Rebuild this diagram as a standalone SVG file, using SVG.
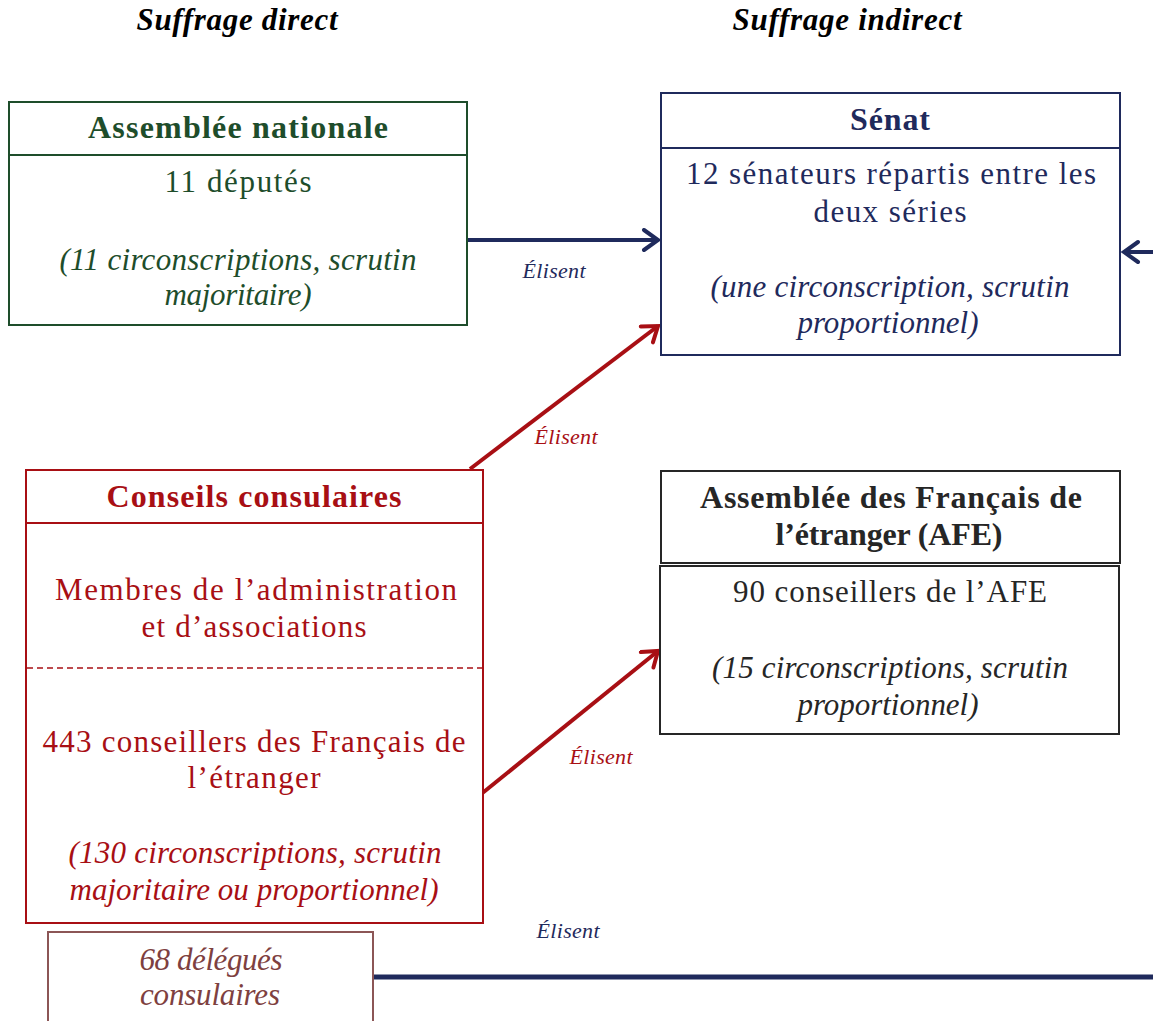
<svg xmlns="http://www.w3.org/2000/svg" width="1153" height="1021" viewBox="0 0 1153 1021">
<style>
text{font-family:"Liberation Serif","Times New Roman",serif;text-anchor:middle;}
.t{font-size:32px;font-weight:bold;}
.n{font-size:31px;}
.i{font-size:31px;font-style:italic;}
.lbl{font-size:22px;font-style:italic;}
.hdr{font-size:31px;font-weight:bold;font-style:italic;fill:#000;}
.box{fill:#fff;stroke-width:2;}
.green{fill:#1e4d2b;}
.navy{fill:#1f2a5c;}
.red{fill:#a80f14;}
.dark{fill:#262626;}
.brown{fill:#7e4040;}
</style>
<defs>
<marker id="ahN" markerUnits="userSpaceOnUse" markerWidth="24" markerHeight="26" refX="18" refY="12" orient="auto"><path d="M4,2 L18,12 L4,22" fill="none" stroke="#1f2a5c" stroke-width="4" stroke-linecap="round" stroke-linejoin="miter"/></marker>
<marker id="ahR" markerUnits="userSpaceOnUse" markerWidth="24" markerHeight="26" refX="18" refY="12" orient="auto"><path d="M4,2 L18,12 L4,22" fill="none" stroke="#a80f14" stroke-width="4" stroke-linecap="round" stroke-linejoin="miter"/></marker>
</defs>
<rect width="1153" height="1021" fill="#fff"/>
<text class="hdr" x="237" y="30" textLength="201">Suffrage direct</text>
<text class="hdr" x="847" y="30" textLength="229">Suffrage indirect</text>

<g id="connectors">
<line x1="468" y1="240" x2="658" y2="240" stroke="#1f2a5c" stroke-width="4" marker-end="url(#ahN)"/>
<text class="lbl navy" x="554" y="278" textLength="63">Élisent</text>
<line x1="470" y1="469" x2="658" y2="326" stroke="#a80f14" stroke-width="4" marker-end="url(#ahR)"/>
<text class="lbl red" x="566" y="444" textLength="63">Élisent</text>
<line x1="480" y1="795" x2="658" y2="651" stroke="#a80f14" stroke-width="4" marker-end="url(#ahR)"/>
<text class="lbl red" x="601" y="764" textLength="63">Élisent</text>
<line x1="1153" y1="252" x2="1124" y2="252" stroke="#1f2a5c" stroke-width="4" marker-end="url(#ahN)"/>
<line x1="373" y1="977" x2="1153" y2="977" stroke="#1f2a5c" stroke-width="5"/>
<text class="lbl navy" x="568" y="938" textLength="63">Élisent</text>
</g>

<g id="assemblee-nationale">
<rect class="box" x="9" y="102" width="458" height="223" stroke="#1e4d2b"/>
<line x1="9" y1="155" x2="467" y2="155" stroke="#1e4d2b" stroke-width="2"/>
<text class="t green" x="238" y="138" textLength="300">Assemblée nationale</text>
<text class="n green" x="238" y="192" textLength="147">11 députés</text>
<text class="i green" x="238" y="270" textLength="357">(11 circonscriptions, scrutin</text>
<text class="i green" x="238" y="305" textLength="147">majoritaire)</text>
</g>

<g id="senat">
<rect class="box" x="661" y="93" width="459" height="262" stroke="#1f2a5c"/>
<line x1="661" y1="148" x2="1120" y2="148" stroke="#1f2a5c" stroke-width="2"/>
<text class="t navy" x="890" y="130" textLength="80">Sénat</text>
<text class="n navy" x="891" y="184" textLength="410">12 sénateurs répartis entre les</text>
<text class="n navy" x="890" y="222" textLength="153">deux séries</text>
<text class="i navy" x="890" y="297" textLength="359">(une circonscription, scrutin</text>
<text class="i navy" x="888" y="333" textLength="181">proportionnel)</text>
</g>

<g id="conseils-consulaires">
<rect class="box" x="26" y="470" width="457" height="453" stroke="#a80f14"/>
<line x1="26" y1="523" x2="483" y2="523" stroke="#a80f14" stroke-width="2"/>
<line x1="27" y1="668" x2="482" y2="668" stroke="#a80f14" stroke-width="1.5" stroke-dasharray="6,4"/>
<text class="t red" x="254" y="507" textLength="295">Conseils consulaires</text>
<text class="n red" x="256" y="600" textLength="402">Membres de l’administration</text>
<text class="n red" x="254" y="637" textLength="225">et d’associations</text>
<text class="n red" x="254" y="752" textLength="423">443 conseillers des Français de</text>
<text class="n red" x="254" y="788" textLength="133">l’étranger</text>
<text class="i red" x="255" y="863" textLength="373">(130 circonscriptions, scrutin</text>
<text class="i red" x="254" y="900" textLength="369">majoritaire ou proportionnel)</text>
</g>

<g id="afe">
<rect class="box" x="661" y="471" width="459" height="92" stroke="#262626" stroke-width="2.5"/>
<rect class="box" x="660" y="566" width="459" height="168" stroke="#262626"/>
<text class="t dark" x="891" y="508" textLength="382">Assemblée des Français de</text>
<text class="t dark" x="889" y="545" textLength="227">l’étranger (AFE)</text>
<text class="n dark" x="890" y="602" textLength="314">90 conseillers de l’AFE</text>
<text class="i dark" x="890" y="678" textLength="356">(15 circonscriptions, scrutin</text>
<text class="i dark" x="888" y="715" textLength="181">proportionnel)</text>
</g>

<g id="delegues-consulaires">
<rect class="box" x="48" y="932" width="325" height="100" stroke="#8c5656"/>
<text class="i brown" x="211" y="970" textLength="143">68 délégués</text>
<text class="i brown" x="210" y="1005" textLength="140">consulaires</text>
</g>
</svg>
